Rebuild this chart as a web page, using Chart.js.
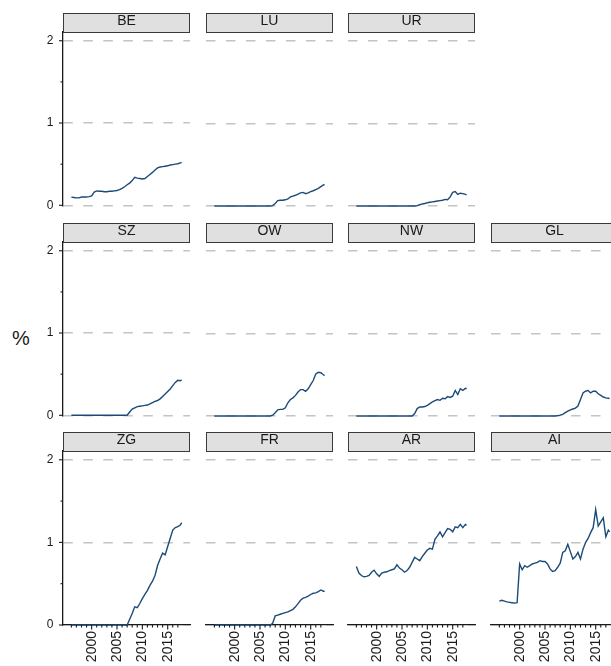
<!DOCTYPE html>
<html>
<head>
<meta charset="utf-8">
<script src="https://cdn.jsdelivr.net/npm/chart.js@4.4.1/dist/chart.umd.min.js"></script>
<style>
html,body{margin:0;padding:0;background:#fff;width:611px;height:666px;overflow:hidden;position:relative;font-family:"Liberation Sans",Arial,sans-serif;}
.strip{position:absolute;box-sizing:border-box;border:1px solid #3a3a3a;background:#e0e0e0;color:#1a1a1a;font-size:14px;line-height:12px;text-align:center;white-space:nowrap;overflow:visible;}
canvas{position:absolute;}
#ylab{position:absolute;left:12px;top:328px;font-size:20px;line-height:20px;color:#1a1a1a;}
</style>
</head>
<body>
<div id="ylab">%</div>
<script>
// ---------- data ----------
const YEARS = [1996,1996.5,1997,1997.5,1998,1998.5,1999,1999.5,2000,2000.5,
  2001,2001.5,2002,2002.5,2003,2003.5,2004,2004.5,2005,2005.5,
  2006,2006.5,2007,2007.5,2008,2008.5,2009,2009.5,2010,2010.5,
  2011,2011.5,2012,2012.5,2013,2013.5,2014,2014.5,2015,2015.5,
  2016,2016.5,2017,2017.5,2017.75];

const X_TICKS = [1996,1997,1998,1999,2000,2001,2002,2003,2004,2005,2006,2007,2008,2009,2010,2011,2012,2013,2014,2015,2016,2017];
const X_LABELED = [2000,2005,2010,2015];
const Y_TICKS = [0,1,2];
const Y_MINOR = [0.5,1.5];

const BE = [0.10,0.095,0.09,0.09,0.10,0.10,0.10,0.105,0.115,0.16,
  0.175,0.17,0.17,0.165,0.165,0.17,0.17,0.175,0.18,0.19,
  0.205,0.225,0.25,0.27,0.30,0.34,0.33,0.325,0.32,0.325,
  0.35,0.375,0.40,0.43,0.455,0.465,0.47,0.475,0.48,0.49,
  0.495,0.50,0.505,0.515,0.52];
const LU = [0,0,0,0,0,0,0,0,0,0,0,0,0,0,0,0,0,0,0,0,0,0,0,
  0.005,0.03,0.065,0.07,0.07,0.075,0.085,0.11,0.12,0.13,0.145,0.16,0.165,0.15,0.16,0.175,0.185,0.2,0.215,0.235,0.255,0.26];
const UR = [0,0,0,0,0,0,0,0,0,0,0,0,0,0,0,0,0,0,0,0,0,0,0,0,
  0.005,0.015,0.025,0.03,0.04,0.045,0.05,0.055,0.06,0.065,0.07,0.08,0.075,0.11,0.165,0.175,0.14,0.155,0.15,0.14,0.135];
const SZ = [0,0,0,0,0,0,0,0,0,0,0,0,0,0,0,0,0,0,0,0,0,0,0,
  0.04,0.075,0.09,0.105,0.11,0.115,0.12,0.125,0.14,0.155,0.17,0.18,0.2,0.23,0.26,0.29,0.32,0.36,0.4,0.425,0.42,0.43];
const OW = [0,0,0,0,0,0,0,0,0,0,0,0,0,0,0,0,0,0,0,0,0,0,0,
  0.01,0.04,0.075,0.08,0.08,0.1,0.16,0.2,0.22,0.25,0.29,0.32,0.32,0.3,0.33,0.38,0.43,0.51,0.53,0.525,0.5,0.49];
const NW = [0,0,0,0,0,0,0,0,0,0,0,0,0,0,0,0,0,0,0,0,0,0,0,
  0.03,0.09,0.11,0.11,0.115,0.13,0.15,0.17,0.185,0.2,0.19,0.215,0.21,0.235,0.225,0.24,0.31,0.26,0.33,0.31,0.335,0.33];
const GL = [0,0,0,0,0,0,0,0,0,0,0,0,0,0,0,0,0,0,0,0,0,0,0,
  0.005,0.01,0.02,0.04,0.06,0.075,0.085,0.095,0.12,0.2,0.28,0.3,0.31,0.28,0.3,0.3,0.27,0.25,0.23,0.22,0.215,0.21];
const ZG = [0,0,0,0,0,0,0,0,0,0,0,0,0,0,0,0,0,0,0,0,0,0,0,
  0.07,0.14,0.22,0.21,0.26,0.32,0.37,0.42,0.48,0.53,0.6,0.72,0.8,0.87,0.85,0.95,1.05,1.15,1.18,1.19,1.21,1.24];
const FR = [0,0,0,0,0,0,0,0,0,0,0,0,0,0,0,0,0,0,0,0,0,0,0,
  0.02,0.11,0.12,0.13,0.14,0.15,0.16,0.175,0.19,0.22,0.26,0.3,0.325,0.335,0.35,0.37,0.385,0.39,0.405,0.425,0.41,0.41];
const AR = [0.71,0.63,0.6,0.585,0.59,0.6,0.64,0.665,0.62,0.59,
  0.63,0.64,0.645,0.66,0.67,0.68,0.73,0.69,0.67,0.64,
  0.66,0.7,0.76,0.82,0.8,0.78,0.83,0.87,0.91,0.93,
  0.92,1.04,1.08,1.13,1.07,1.12,1.17,1.16,1.13,1.19,
  1.18,1.22,1.18,1.22,1.21];
const AI = [0.29,0.3,0.29,0.28,0.275,0.27,0.265,0.27,0.74,0.67,
  0.72,0.7,0.72,0.74,0.75,0.76,0.78,0.77,0.77,0.74,
  0.68,0.65,0.66,0.7,0.75,0.88,0.9,0.98,0.89,0.8,
  0.83,0.88,0.8,0.92,1.0,1.05,1.12,1.18,1.4,1.2,
  1.25,1.3,1.07,1.15,1.13];

const PANEL_LABELS = ['BE','LU','UR','SZ','OW','NW','GL','ZG','FR','AR','AI'];
const PANEL_SERIES = [BE, LU, UR, SZ, OW, NW, GL, ZG, FR, AR, AI];

// ---------- layout / style ----------
const PANEL_ROW = [0,0,0,1,1,1,1,2,2,2,2];
const PANEL_COL = [0,1,2,0,1,2,3,0,1,2,3];
const COL_X = [63, 206, 348, 491];
const ROW_TOP = [32, 242, 451];
const PLOT_W = 127, PLOT_H = 174;
const X_MIN = 1994.35, X_MAX = 2019.4;
const Y_MIN = 0, Y_MAX = 2.11;
const LINE_COLOR = '#1c4b78';
const GRID_COLOR = '#c4c4c4';
const AXIS_COLOR = '#1a1a1a';
const FONT = '"Liberation Sans", Arial, sans-serif';

Chart.defaults.font.family = FONT;

const tickPlugin = {
  id: 'tickMarks',
  afterDraw(chart, args, opts) {
    const ctx = chart.ctx;
    ctx.save();
    ctx.strokeStyle = AXIS_COLOR;
    ctx.lineWidth = 1.1;
    if (opts.y) {
      const s = chart.scales.y, x0 = chart.chartArea.left;
      Y_TICKS.concat(Y_MINOR).forEach(v => {
        const p = s.getPixelForValue(v);
        const len = Y_TICKS.includes(v) ? 4 : 2.5;
        ctx.beginPath(); ctx.moveTo(x0 - len, p); ctx.lineTo(x0, p); ctx.stroke();
      });
    }
    if (opts.x) {
      const s = chart.scales.x, y0 = chart.chartArea.bottom;
      X_TICKS.forEach(v => {
        const p = s.getPixelForValue(v);
        const len = X_LABELED.includes(v) ? 4.5 : 2.5;
        ctx.beginPath(); ctx.moveTo(p, y0); ctx.lineTo(p, y0 + len); ctx.stroke();
      });
    }
    ctx.restore();
  }
};

function makeConfig(values, showX, showY, pad, YW, XH) {
  return {
    type: 'line',
    data: {
      datasets: [{
        data: YEARS.map((x, j) => ({x: x, y: values[j]})),
        borderColor: LINE_COLOR,
        borderWidth: 1.4,
        pointRadius: 0,
        tension: 0,
        fill: false,
        clip: false
      }]
    },
    options: {
      responsive: false,
      maintainAspectRatio: false,
      animation: false,
      events: [],
      layout: {padding: pad},
      plugins: {
        legend: {display: false},
        tooltip: {enabled: false},
        title: {display: false},
        tickMarks: {x: showX, y: showY}
      },
      scales: {
        x: {
          type: 'linear',
          min: X_MIN, max: X_MAX,
          display: showX,
          afterBuildTicks: s => { s.ticks = X_TICKS.map(v => ({value: v})); },
          afterFit: s => { s.height = XH; },
          grid: {display: false, drawTicks: false},
          border: {display: true, color: AXIS_COLOR, width: 1.3},
          ticks: {
            autoSkip: false, minRotation: 90, maxRotation: 90, padding: 6,
            font: {family: FONT, size: 14}, color: '#1a1a1a',
            callback: v => X_LABELED.includes(v) ? String(v) : ''
          }
        },
        y: {
          type: 'linear',
          min: Y_MIN, max: Y_MAX,
          display: true,
          afterBuildTicks: s => { s.ticks = Y_TICKS.map(v => ({value: v})); },
          afterFit: s => { s.width = YW; },
          grid: {display: true, drawTicks: false, color: GRID_COLOR, lineWidth: 1.4},
          border: {display: showY, color: AXIS_COLOR, width: 1.3, dash: [9.5, 10.5]},
          ticks: {
            display: showY, padding: 9.5,
            font: {family: FONT, size: 12}, color: '#1a1a1a',
            callback: v => String(v)
          }
        }
      }
    },
    plugins: [tickPlugin]
  };
}

function makePanel(i) {
  const row = PANEL_ROW[i], col = PANEL_COL[i];
  const showY = col === 0, showX = row === 2;
  const pad = {left: showY ? 0 : 10, top: 10, right: 14, bottom: showX ? 0 : 10};
  const YW = showY ? 63 : 0, XH = showX ? 45 : 0;

  // strip header
  const strip = document.createElement('div');
  strip.className = 'strip';
  strip.textContent = PANEL_LABELS[i];
  strip.style.left = COL_X[col] + 'px';
  strip.style.top = (ROW_TOP[row] - 19) + 'px';
  strip.style.width = PLOT_W + 'px';
  strip.style.height = '20px';

  const canvas = document.createElement('canvas');
  document.body.appendChild(canvas);
  let w = pad.left + YW + PLOT_W + pad.right;
  let h = pad.top + PLOT_H + XH + pad.bottom;
  let chart;
  for (let k = 0; k < 4; k++) {
    canvas.width = w; canvas.height = h;
    canvas.style.width = w + 'px'; canvas.style.height = h + 'px';
    chart = new Chart(canvas, makeConfig(PANEL_SERIES[i], showX, showY, pad, YW, XH));
    const a = chart.chartArea;
    const dw = PLOT_W - (a.right - a.left), dh = PLOT_H - (a.bottom - a.top);
    if (Math.abs(dw) < 0.5 && Math.abs(dh) < 0.5) break;
    chart.destroy();
    w += Math.round(dw); h += Math.round(dh);
  }
  canvas.style.left = Math.round(COL_X[col] - chart.chartArea.left) + 'px';
  canvas.style.top = Math.round(ROW_TOP[row] - chart.chartArea.top) + 'px';
  document.body.appendChild(strip);
}

PANEL_LABELS.forEach((_, i) => makePanel(i));
</script>
</body>
</html>
